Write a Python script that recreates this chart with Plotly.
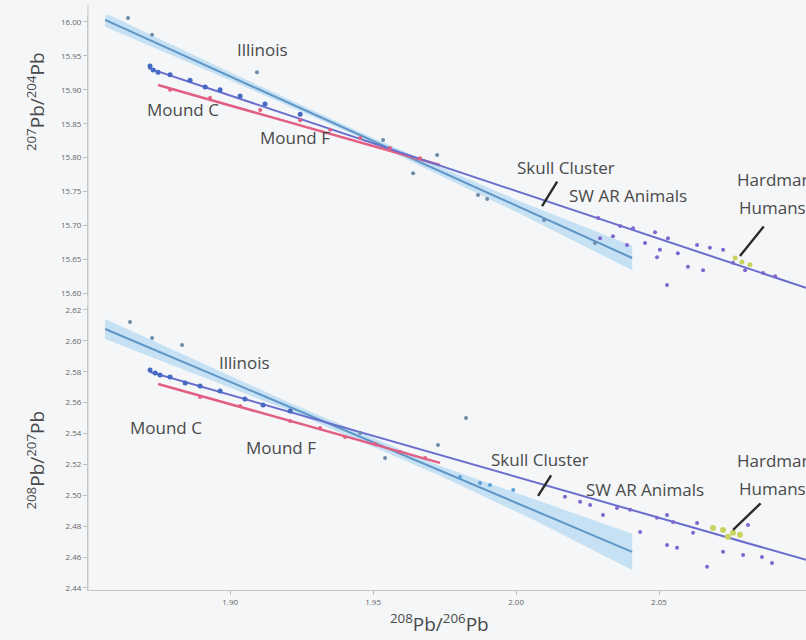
import plotly.graph_objects as go

# ---------------- data: 208Pb/206Pb (x) vs 207Pb/204Pb (top) and 208Pb/207Pb (bottom)
# Illinois
il_x_top = [1.8643, 1.8727, 1.9094, 1.9535, 1.9640, 1.9724, 1.9867, 1.9899, 2.0098, 2.0276]
il_y_top = [16.006, 15.981, 15.926, 15.826, 15.777, 15.804, 15.745, 15.739, 15.708, 15.674]
il_x_bot = [1.8650, 1.8727, 1.8832, 1.9455, 1.9542, 1.9727, 1.9825]
il_y_bot = [2.6122, 2.6019, 2.5973, 2.5404, 2.5242, 2.5326, 2.5501]

# Mound C
mc_x_top = [1.8720, 1.8731, 1.8748, 1.8790, 1.8860, 1.8913, 1.8965, 1.9035, 1.9122, 1.9245]
mc_y_top = [15.935, 15.929, 15.926, 15.922, 15.914, 15.904, 15.900, 15.891, 15.879, 15.864]
mc_x_bot = [1.8720, 1.8738, 1.8755, 1.8790, 1.8843, 1.8895, 1.8965, 1.9052, 1.9115, 1.9210]
mc_y_bot = [2.5812, 2.5792, 2.5779, 2.5766, 2.5728, 2.5708, 2.5676, 2.5624, 2.5585, 2.5546]

# Mound F
mf_x_top = [1.8790, 1.8930, 1.9105, 1.9245, 1.9350, 1.9455, 1.9559, 1.9664]
mf_y_top = [15.900, 15.888, 15.870, 15.855, 15.841, 15.829, 15.814, 15.799]
mf_x_bot = [1.8895, 1.9035, 1.9210, 1.9315, 1.9402, 1.9507, 1.9594, 1.9682]
mf_y_bot = [2.5637, 2.5579, 2.5482, 2.5436, 2.5378, 2.5333, 2.5281, 2.5242]

# Skull Cluster
sk_x_bot = [1.9804, 1.9874, 1.9909, 1.9990]
sk_y_bot = [2.5119, 2.5080, 2.5067, 2.5035]

# SW AR Animals
sw_x_top = [2.0287, 2.0294, 2.0339, 2.0364, 2.0409, 2.0486, 2.0531, 2.0388, 2.0451, 2.0503,
            2.0493, 2.0566, 2.0633, 2.0678, 2.0724, 2.0601, 2.0654, 2.0528, 2.0759, 2.0801,
            2.0864, 2.0906]
sw_y_top = [15.711, 15.681, 15.684, 15.699, 15.696, 15.690, 15.681, 15.671, 15.674, 15.664,
            15.653, 15.659, 15.671, 15.667, 15.664, 15.639, 15.634, 15.612, 15.645, 15.634,
            15.630, 15.625]
sw_x_bot = [2.0171, 2.0224, 2.0259, 2.0304, 2.0353, 2.0399, 2.0434, 2.0493, 2.0528, 2.0549,
            2.0528, 2.0563, 2.0633, 2.0619, 2.0668, 2.0724, 2.0794, 2.0811, 2.0860, 2.0895]
sw_y_bot = [2.4990, 2.4958, 2.4938, 2.4873, 2.4918, 2.4906, 2.4763, 2.4854, 2.4873, 2.4828,
            2.4679, 2.4660, 2.4821, 2.4757, 2.4537, 2.4634, 2.4614, 2.4808, 2.4601, 2.4562]

# Hardman Humans
hh_x_top = [2.0766, 2.0790, 2.0818]
hh_y_top = [15.652, 15.646, 15.642]
hh_x_bot = [2.0689, 2.0724, 2.0759, 2.0741, 2.0783]
hh_y_bot = [2.4789, 2.4776, 2.4757, 2.4731, 2.4744]

# regression lines (end points)
ill_line_x_top = [1.8563, 2.0406]
ill_line_y_top = [16.003, 15.652]
ill_line_x_bot = [1.8563, 2.0406]
ill_line_y_bot = [2.6077, 2.4634]
all_line_x_top = [1.8713, 2.1014]
all_line_y_top = [15.932, 15.608]
all_line_x_bot = [1.8720, 2.1014]
all_line_y_bot = [2.5799, 2.4582]
mf_line_x_top = [1.8748, 1.9734]
mf_line_y_top = [15.907, 15.789]
mf_line_x_bot = [1.8748, 1.9734]
mf_line_y_bot = [2.5721, 2.5210]

# confidence band around the Illinois fit
band_x_top = [1.8563, 1.90, 1.95, 2.00, 2.0406]
band_lo_top = [15.993, 15.914, 15.821, 15.720, 15.634]
band_hi_top = [16.013, 15.926, 15.829, 15.738, 15.670]
band_x_bot = [1.8563, 1.9210, 1.9734, 2.0049, 2.0406]
band_lo_bot = [2.6012, 2.5546, 2.5126, 2.4853, 2.4517]
band_hi_bot = [2.6142, 2.5598, 2.5190, 2.4983, 2.4751]

# group labels
lab_text = ["Illinois", "Mound C", "Mound F", "Skull Cluster", "SW AR Animals", "Hardman", "Humans"]
lab_x_top = [1.9112, 1.8836, 1.9227, 2.0175, 2.0392, 2.0766, 2.0773]
lab_y_top = [15.9587, 15.8702, 15.8289, 15.7847, 15.7448, 15.7670, 15.7271]
lab_x_bot = [1.9049, 1.8776, 1.9178, 2.0084, 2.0451, 2.0766, 2.0773]
lab_y_bot = [2.5863, 2.5436, 2.5307, 2.5229, 2.5035, 2.5223, 2.5041]

# leader lines: tip position in data units
ptr_x_top = [2.0091, 2.0783]
ptr_y_top = [15.7286, 15.6549]
ptr_x_bot = [2.0077, 2.0759]
ptr_y_bot = [2.4996, 2.4776]

y_ticks_top = [15.60, 15.65, 15.70, 15.75, 15.80, 15.85, 15.90, 15.95, 16.00]
y_ticks_bot = [2.44, 2.46, 2.48, 2.50, 2.52, 2.54, 2.56, 2.58, 2.60, 2.62]
x_ticks = [1.90, 1.95, 2.00, 2.05]

# ---------------- styles
C_ILL = "rgb(95,150,200)"
C_ILL_PT = "rgb(110,140,170)"
C_BAND = "rgba(140,200,238,0.45)"
C_MAIN = "rgb(105,110,205)"
C_MC = "rgb(70,105,195)"
C_MF = "rgb(225,95,130)"
C_SW = "rgb(125,105,205)"
C_SK = "rgb(90,160,215)"
C_HH = "rgb(200,212,95)"
TXT = "#4a4a4a"
AXIS = "#c4c6c8"
FONT = "Open Sans, Noto Sans, sans-serif"

fig = go.Figure()


def add_panel(ya, bx, blo, bhi, lx_i, ly_i, lx_a, ly_a, lx_f, ly_f, pts):
    fig.add_trace(go.Scatter(x=bx, y=blo, mode="lines", line=dict(width=0),
                             xaxis="x", yaxis=ya, hoverinfo="skip", showlegend=False))
    fig.add_trace(go.Scatter(x=bx, y=bhi, mode="lines", line=dict(width=0), fill="tonexty",
                             fillcolor=C_BAND, xaxis="x", yaxis=ya, hoverinfo="skip",
                             showlegend=False))
    fig.add_trace(go.Scatter(x=lx_i, y=ly_i, mode="lines", line=dict(color=C_ILL, width=2),
                             xaxis="x", yaxis=ya, showlegend=False))
    fig.add_trace(go.Scatter(x=lx_f, y=ly_f, mode="lines", line=dict(color=C_MF, width=2.5),
                             xaxis="x", yaxis=ya, showlegend=False))
    fig.add_trace(go.Scatter(x=lx_a, y=ly_a, mode="lines", line=dict(color=C_MAIN, width=2),
                             xaxis="x", yaxis=ya, showlegend=False))
    for px, py, col, sz in pts:
        fig.add_trace(go.Scatter(x=px, y=py, mode="markers",
                                 marker=dict(color=col, size=sz, line=dict(width=0)),
                                 xaxis="x", yaxis=ya, showlegend=False))


add_panel("y", band_x_top, band_lo_top, band_hi_top, ill_line_x_top, ill_line_y_top,
          all_line_x_top, all_line_y_top, mf_line_x_top, mf_line_y_top,
          [(il_x_top, il_y_top, C_ILL_PT, 4), (mc_x_top, mc_y_top, C_MC, 5),
           (mf_x_top, mf_y_top, C_MF, 4), (sw_x_top, sw_y_top, C_SW, 4),
           (hh_x_top, hh_y_top, C_HH, 5)])
add_panel("y2", band_x_bot, band_lo_bot, band_hi_bot, ill_line_x_bot, ill_line_y_bot,
          all_line_x_bot, all_line_y_bot, mf_line_x_bot, mf_line_y_bot,
          [(il_x_bot, il_y_bot, C_ILL_PT, 4), (mc_x_bot, mc_y_bot, C_MC, 5),
           (mf_x_bot, mf_y_bot, C_MF, 4), (sk_x_bot, sk_y_bot, C_SK, 4),
           (sw_x_bot, sw_y_bot, C_SW, 4), (hh_x_bot, hh_y_bot, C_HH, 6)])

annotations = []
for yref, lx, ly in (("y", lab_x_top, lab_y_top), ("y2", lab_x_bot, lab_y_bot)):
    for i, t in enumerate(lab_text):
        left = t in ("Hardman", "Humans")
        annotations.append(dict(x=lx[i], y=ly[i], xref="x", yref=yref, text=t,
                                showarrow=False, xanchor="left" if left else "center",
                                yanchor="middle", font=dict(family=FONT, size=17, color=TXT)))

# leader lines from the labels down to the fitted lines
for yref, px, py, offs in (("y", ptr_x_top, ptr_y_top, [(16, -26), (25, -31)]),
                           ("y2", ptr_x_bot, ptr_y_bot, [(14, -22), (29, -28)])):
    for i in range(2):
        annotations.append(dict(x=px[i], y=py[i], xref="x", yref=yref, text="",
                                showarrow=True, arrowhead=0, arrowwidth=2.4,
                                arrowcolor="#2b2b2b", ax=offs[i][0], ay=offs[i][1]))

# axis titles
annotations += [
    dict(x=-0.073, y=0.835, xref="paper", yref="paper", showarrow=False, textangle=-90,
         xanchor="center", yanchor="middle",
         text="<sup>207</sup>Pb/<sup>204</sup>Pb", font=dict(family=FONT, size=19, color=TXT)),
    dict(x=-0.073, y=0.2222, xref="paper", yref="paper", showarrow=False, textangle=-90,
         xanchor="center", yanchor="middle",
         text="<sup>208</sup>Pb/<sup>207</sup>Pb", font=dict(family=FONT, size=19, color=TXT)),
    dict(x=0.49, y=-0.057, xref="paper", yref="paper", showarrow=False,
         xanchor="center", yanchor="middle",
         text="<sup>208</sup>Pb/<sup>206</sup>Pb", font=dict(family=FONT, size=19, color=TXT)),
]

axis_common = dict(showgrid=False, zeroline=False, showline=True, linecolor=AXIS,
                   linewidth=1, ticks="outside", ticklen=4, tickcolor="#bdbfc1",
                   tickfont=dict(family=FONT, size=8, color="#666"))

fig.update_layout(
    width=806, height=640,
    margin=dict(l=88, r=0, t=5, b=50),
    paper_bgcolor="#f4f6f8", plot_bgcolor="#f4f6f8",
    showlegend=False,
    annotations=annotations,
    # one continuous left spine shared by both panels
    shapes=[dict(type="line", xref="paper", yref="paper", x0=0, x1=0, y0=0, y1=1,
                 line=dict(color=AXIS, width=1))],
    xaxis=dict(axis_common, domain=[0, 1], range=[1.8503, 2.1014], anchor="y2",
               tickvals=x_ticks, ticktext=["%.2f" % v for v in x_ticks]),
    yaxis=dict(axis_common, domain=[0.5015, 0.9826], range=[15.595, 16.01], anchor="x",
               tickvals=y_ticks_top, ticktext=["%.2f" % v for v in y_ticks_top]),
    yaxis2=dict(axis_common, domain=[0, 0.4879], range=[2.4387, 2.6235], anchor="x",
                tickvals=y_ticks_bot, ticktext=["%.2f" % v for v in y_ticks_bot]),
)

fig.write_html("out.html")
